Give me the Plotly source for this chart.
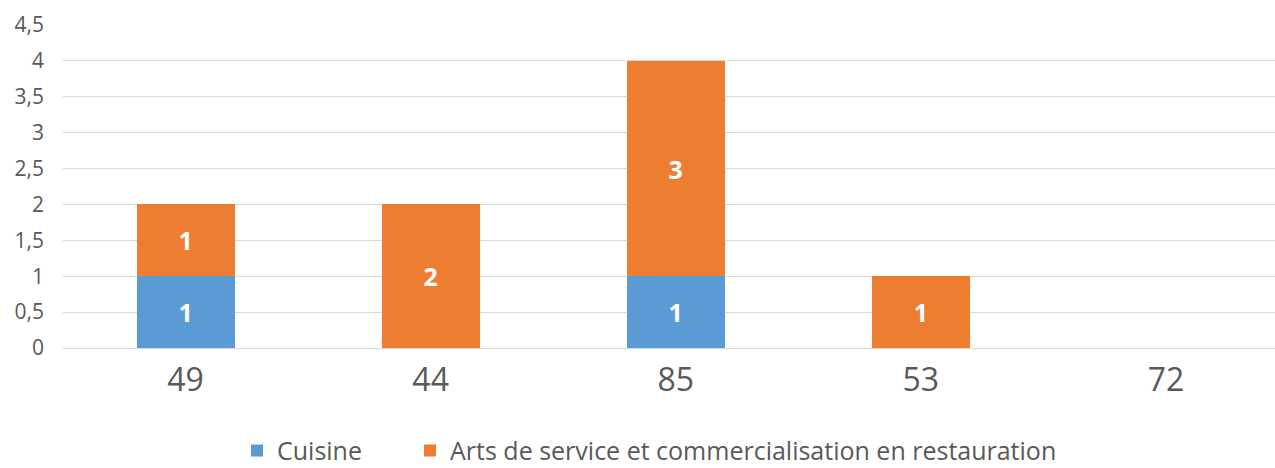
import plotly.graph_objects as go

categories = ["49", "44", "85", "53", "72"]
cuisine = [1, 0, 1, 0, 0]
arts = [1, 2, 3, 1, 0]
ytick_vals = [0, 0.5, 1, 1.5, 2, 2.5, 3, 3.5, 4, 4.5]
ytick_text = ["0", "0,5", "1", "1,5", "2", "2,5", "3", "3,5", "4", "4,5"]

FONT = "'Open Sans', sans-serif"

def labels(vals):
    return [str(v) if v else "" for v in vals]

fig = go.Figure()
fig.add_trace(go.Bar(
    name="Cuisine", x=categories, y=cuisine, marker_color="#5B9BD5",
    text=labels(cuisine), textposition="inside", insidetextanchor="middle",
    constraintext="none",
    textfont=dict(color="white", size=25, family=FONT, weight="bold"),
    marker_line_width=0, hoverinfo="y", legend="legend",
))
fig.add_trace(go.Bar(
    name="Arts de service et commercialisation en restauration", x=categories, y=arts,
    marker_color="#ED7D31",
    text=labels(arts), textposition="inside", insidetextanchor="middle",
    constraintext="none",
    textfont=dict(color="white", size=25, family=FONT, weight="bold"),
    marker_line_width=0, hoverinfo="y", legend="legend2",
))

legend_common = dict(
    orientation="h", xanchor="left", xref="container",
    y=-0.318, yanchor="middle", yref="paper",
    font=dict(size=25, color="#595959", family=FONT),
    itemwidth=30, bgcolor="rgba(0,0,0,0)",
)

fig.update_layout(
    barmode="stack",
    bargap=0.6,
    width=1275, height=468,
    margin=dict(l=63, r=0, t=25, b=120, autoexpand=False),
    plot_bgcolor="white", paper_bgcolor="white",
    font=dict(family=FONT, color="#595959"),
    showlegend=True,
    legend=dict(x=237 / 1275, **legend_common),
    legend2=dict(x=410 / 1275, **legend_common),
)
fig.update_xaxes(
    type="category", range=[-0.5, 4.445], automargin=False,
    tickfont=dict(size=32, color="#595959", family=FONT),
    showgrid=False, showline=False, ticks="", ticklabelstandoff=10,
)
fig.update_yaxes(
    range=[0, 4.5], tickvals=ytick_vals, ticktext=ytick_text, automargin=False,
    tickfont=dict(size=21, color="#595959", family=FONT),
    showgrid=True, gridcolor="#D9D9D9", gridwidth=1,
    zeroline=True, zerolinecolor="#D9D9D9", zerolinewidth=1,
    showline=False, ticks="", ticklabelstandoff=18,
)
fig.write_html("out.html", config={"displayModeBar": False},
               post_script="document.body.style.margin='0';")
